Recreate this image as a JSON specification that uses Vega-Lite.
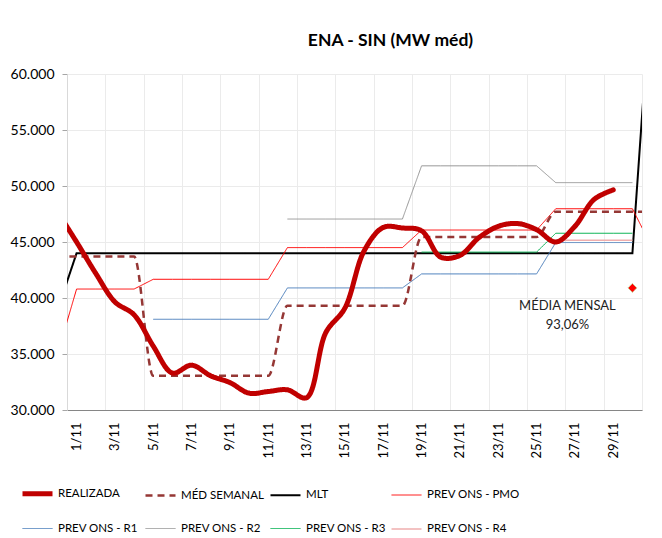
{
  "$schema": "https://vega.github.io/schema/vega-lite/v6.json",
  "width": 575,
  "height": 336,
  "autosize": {"type": "none"},
  "padding": {"left": 67, "top": 74, "right": 20, "bottom": 128},
  "background": "white",
  "title": {"text": "ENA - SIN (MW méd)", "font": "Lato", "fontSize": 17.5, "fontWeight": "bold", "color": "black", "anchor": "middle", "frame": "group", "dx": 36, "offset": 4, "baseline": "alphabetic"},
  "data": {"values": [
    {"day":0,"serie":"REALIZADA","v":47700},{"day":1,"serie":"REALIZADA","v":45000},{"day":2,"serie":"REALIZADA","v":42200},{"day":3,"serie":"REALIZADA","v":39650},{"day":4,"serie":"REALIZADA","v":38500},{"day":5,"serie":"REALIZADA","v":35700},{"day":6,"serie":"REALIZADA","v":33300},{"day":7,"serie":"REALIZADA","v":34000},{"day":8,"serie":"REALIZADA","v":33050},{"day":9,"serie":"REALIZADA","v":32450},{"day":10,"serie":"REALIZADA","v":31500},{"day":11,"serie":"REALIZADA","v":31650},{"day":12,"serie":"REALIZADA","v":31800},{"day":13,"serie":"REALIZADA","v":31100},{"day":14,"serie":"REALIZADA","v":36900},{"day":15,"serie":"REALIZADA","v":39100},{"day":16,"serie":"REALIZADA","v":44200},{"day":17,"serie":"REALIZADA","v":46300},{"day":18,"serie":"REALIZADA","v":46250},{"day":19,"serie":"REALIZADA","v":46000},{"day":20,"serie":"REALIZADA","v":43650},{"day":21,"serie":"REALIZADA","v":43800},{"day":22,"serie":"REALIZADA","v":45400},{"day":23,"serie":"REALIZADA","v":46400},{"day":24,"serie":"REALIZADA","v":46650},{"day":25,"serie":"REALIZADA","v":46100},{"day":26,"serie":"REALIZADA","v":45000},{"day":27,"serie":"REALIZADA","v":46400},{"day":28,"serie":"REALIZADA","v":48800},{"day":29,"serie":"REALIZADA","v":49650},
    {"day":0,"serie":"MÉD SEMANAL","v":43700},{"day":1,"serie":"MÉD SEMANAL","v":43700},{"day":2,"serie":"MÉD SEMANAL","v":43700},{"day":3,"serie":"MÉD SEMANAL","v":43700},{"day":4,"serie":"MÉD SEMANAL","v":43700},{"day":5,"serie":"MÉD SEMANAL","v":33050},{"day":6,"serie":"MÉD SEMANAL","v":33050},{"day":7,"serie":"MÉD SEMANAL","v":33050},{"day":8,"serie":"MÉD SEMANAL","v":33050},{"day":9,"serie":"MÉD SEMANAL","v":33050},{"day":10,"serie":"MÉD SEMANAL","v":33050},{"day":11,"serie":"MÉD SEMANAL","v":33050},{"day":12,"serie":"MÉD SEMANAL","v":39300},{"day":13,"serie":"MÉD SEMANAL","v":39300},{"day":14,"serie":"MÉD SEMANAL","v":39300},{"day":15,"serie":"MÉD SEMANAL","v":39300},{"day":16,"serie":"MÉD SEMANAL","v":39300},{"day":17,"serie":"MÉD SEMANAL","v":39300},{"day":18,"serie":"MÉD SEMANAL","v":39300},{"day":19,"serie":"MÉD SEMANAL","v":45450},{"day":20,"serie":"MÉD SEMANAL","v":45450},{"day":21,"serie":"MÉD SEMANAL","v":45450},{"day":22,"serie":"MÉD SEMANAL","v":45450},{"day":23,"serie":"MÉD SEMANAL","v":45450},{"day":24,"serie":"MÉD SEMANAL","v":45450},{"day":25,"serie":"MÉD SEMANAL","v":45450},{"day":26,"serie":"MÉD SEMANAL","v":47700},{"day":27,"serie":"MÉD SEMANAL","v":47700},{"day":28,"serie":"MÉD SEMANAL","v":47700},{"day":29,"serie":"MÉD SEMANAL","v":47700},{"day":30,"serie":"MÉD SEMANAL","v":47700},{"day":31,"serie":"MÉD SEMANAL","v":47700},
    {"day":0,"serie":"MLT","v":38900},{"day":1,"serie":"MLT","v":44000},{"day":2,"serie":"MLT","v":44000},{"day":3,"serie":"MLT","v":44000},{"day":4,"serie":"MLT","v":44000},{"day":5,"serie":"MLT","v":44000},{"day":6,"serie":"MLT","v":44000},{"day":7,"serie":"MLT","v":44000},{"day":8,"serie":"MLT","v":44000},{"day":9,"serie":"MLT","v":44000},{"day":10,"serie":"MLT","v":44000},{"day":11,"serie":"MLT","v":44000},{"day":12,"serie":"MLT","v":44000},{"day":13,"serie":"MLT","v":44000},{"day":14,"serie":"MLT","v":44000},{"day":15,"serie":"MLT","v":44000},{"day":16,"serie":"MLT","v":44000},{"day":17,"serie":"MLT","v":44000},{"day":18,"serie":"MLT","v":44000},{"day":19,"serie":"MLT","v":44000},{"day":20,"serie":"MLT","v":44000},{"day":21,"serie":"MLT","v":44000},{"day":22,"serie":"MLT","v":44000},{"day":23,"serie":"MLT","v":44000},{"day":24,"serie":"MLT","v":44000},{"day":25,"serie":"MLT","v":44000},{"day":26,"serie":"MLT","v":44000},{"day":27,"serie":"MLT","v":44000},{"day":28,"serie":"MLT","v":44000},{"day":29,"serie":"MLT","v":44000},{"day":30,"serie":"MLT","v":44000},{"day":31,"serie":"MLT","v":68400},
    {"day":0,"serie":"PREV ONS - PMO","v":34960},{"day":1,"serie":"PREV ONS - PMO","v":40800},{"day":2,"serie":"PREV ONS - PMO","v":40800},{"day":3,"serie":"PREV ONS - PMO","v":40800},{"day":4,"serie":"PREV ONS - PMO","v":40800},{"day":5,"serie":"PREV ONS - PMO","v":41670},{"day":6,"serie":"PREV ONS - PMO","v":41670},{"day":7,"serie":"PREV ONS - PMO","v":41670},{"day":8,"serie":"PREV ONS - PMO","v":41670},{"day":9,"serie":"PREV ONS - PMO","v":41670},{"day":10,"serie":"PREV ONS - PMO","v":41670},{"day":11,"serie":"PREV ONS - PMO","v":41670},{"day":12,"serie":"PREV ONS - PMO","v":44500},{"day":13,"serie":"PREV ONS - PMO","v":44500},{"day":14,"serie":"PREV ONS - PMO","v":44500},{"day":15,"serie":"PREV ONS - PMO","v":44500},{"day":16,"serie":"PREV ONS - PMO","v":44500},{"day":17,"serie":"PREV ONS - PMO","v":44500},{"day":18,"serie":"PREV ONS - PMO","v":44500},{"day":19,"serie":"PREV ONS - PMO","v":46070},{"day":20,"serie":"PREV ONS - PMO","v":46070},{"day":21,"serie":"PREV ONS - PMO","v":46070},{"day":22,"serie":"PREV ONS - PMO","v":46070},{"day":23,"serie":"PREV ONS - PMO","v":46070},{"day":24,"serie":"PREV ONS - PMO","v":46070},{"day":25,"serie":"PREV ONS - PMO","v":46070},{"day":26,"serie":"PREV ONS - PMO","v":47970},{"day":27,"serie":"PREV ONS - PMO","v":47970},{"day":28,"serie":"PREV ONS - PMO","v":47970},{"day":29,"serie":"PREV ONS - PMO","v":47970},{"day":30,"serie":"PREV ONS - PMO","v":47970},{"day":31,"serie":"PREV ONS - PMO","v":44600},
    {"day":5,"serie":"PREV ONS - R1","v":38100},{"day":6,"serie":"PREV ONS - R1","v":38100},{"day":7,"serie":"PREV ONS - R1","v":38100},{"day":8,"serie":"PREV ONS - R1","v":38100},{"day":9,"serie":"PREV ONS - R1","v":38100},{"day":10,"serie":"PREV ONS - R1","v":38100},{"day":11,"serie":"PREV ONS - R1","v":38100},{"day":12,"serie":"PREV ONS - R1","v":40900},{"day":13,"serie":"PREV ONS - R1","v":40900},{"day":14,"serie":"PREV ONS - R1","v":40900},{"day":15,"serie":"PREV ONS - R1","v":40900},{"day":16,"serie":"PREV ONS - R1","v":40900},{"day":17,"serie":"PREV ONS - R1","v":40900},{"day":18,"serie":"PREV ONS - R1","v":40900},{"day":19,"serie":"PREV ONS - R1","v":42150},{"day":20,"serie":"PREV ONS - R1","v":42150},{"day":21,"serie":"PREV ONS - R1","v":42150},{"day":22,"serie":"PREV ONS - R1","v":42150},{"day":23,"serie":"PREV ONS - R1","v":42150},{"day":24,"serie":"PREV ONS - R1","v":42150},{"day":25,"serie":"PREV ONS - R1","v":42150},{"day":26,"serie":"PREV ONS - R1","v":44950},{"day":27,"serie":"PREV ONS - R1","v":44950},{"day":28,"serie":"PREV ONS - R1","v":44950},{"day":29,"serie":"PREV ONS - R1","v":44950},{"day":30,"serie":"PREV ONS - R1","v":44950},
    {"day":12,"serie":"PREV ONS - R2","v":47050},{"day":13,"serie":"PREV ONS - R2","v":47050},{"day":14,"serie":"PREV ONS - R2","v":47050},{"day":15,"serie":"PREV ONS - R2","v":47050},{"day":16,"serie":"PREV ONS - R2","v":47050},{"day":17,"serie":"PREV ONS - R2","v":47050},{"day":18,"serie":"PREV ONS - R2","v":47050},{"day":19,"serie":"PREV ONS - R2","v":51800},{"day":20,"serie":"PREV ONS - R2","v":51800},{"day":21,"serie":"PREV ONS - R2","v":51800},{"day":22,"serie":"PREV ONS - R2","v":51800},{"day":23,"serie":"PREV ONS - R2","v":51800},{"day":24,"serie":"PREV ONS - R2","v":51800},{"day":25,"serie":"PREV ONS - R2","v":51800},{"day":26,"serie":"PREV ONS - R2","v":50300},{"day":27,"serie":"PREV ONS - R2","v":50300},{"day":28,"serie":"PREV ONS - R2","v":50300},{"day":29,"serie":"PREV ONS - R2","v":50300},{"day":30,"serie":"PREV ONS - R2","v":50300},
    {"day":19,"serie":"PREV ONS - R3","v":44100},{"day":20,"serie":"PREV ONS - R3","v":44100},{"day":21,"serie":"PREV ONS - R3","v":44100},{"day":22,"serie":"PREV ONS - R3","v":44100},{"day":23,"serie":"PREV ONS - R3","v":44100},{"day":24,"serie":"PREV ONS - R3","v":44100},{"day":25,"serie":"PREV ONS - R3","v":44100},{"day":26,"serie":"PREV ONS - R3","v":45780},{"day":27,"serie":"PREV ONS - R3","v":45780},{"day":28,"serie":"PREV ONS - R3","v":45780},{"day":29,"serie":"PREV ONS - R3","v":45780},{"day":30,"serie":"PREV ONS - R3","v":45780},
    {"day":26,"serie":"PREV ONS - R4","v":45150},{"day":27,"serie":"PREV ONS - R4","v":45150},{"day":28,"serie":"PREV ONS - R4","v":45150},{"day":29,"serie":"PREV ONS - R4","v":45150},{"day":30,"serie":"PREV ONS - R4","v":45150},
    {"day":30,"serie":"MÉDIA MENSAL","v":40900,"label":"MÉDIA MENSAL\n93,06%"}
  ]},
  "resolve": {"axis": {"x": "independent"}},
  "encoding": {
    "x": {"field": "day", "type": "quantitative", "scale": {"domain": [0.5, 30.5], "nice": false, "zero": false}},
    "y": {"field": "v", "type": "quantitative", "scale": {"domain": [30000, 60000], "nice": false, "zero": false},
      "axis": {"title": null, "values": [30000, 35000, 40000, 45000, 50000, 55000, 60000], "labelExpr": "replace(format(datum.value, ',.0f'), ',', '.')", "labelFont": "Lato", "labelFontSize": 14, "labelColor": "black", "labelPadding": 8, "tickSize": 5, "tickColor": "#A6A6A6", "domainColor": "#D9D9D9", "gridColor": "#EBEBEB", "grid": true}},
    "color": {"field": "serie", "type": "nominal", "scale": {"domain": ["REALIZADA", "MÉD SEMANAL", "MLT", "PREV ONS - PMO", "PREV ONS - R1", "PREV ONS - R2", "PREV ONS - R3", "PREV ONS - R4"], "range": ["#C00000", "#953735", "#000000", "#FF0000", "#4A7EBB", "#969696", "#00B050", "#F0AFAF"]}, "legend": {"title": null}},
    "strokeDash": {"field": "serie", "type": "nominal", "scale": {"type": "ordinal", "domain": ["REALIZADA", "MÉD SEMANAL", "MLT", "PREV ONS - PMO", "PREV ONS - R1", "PREV ONS - R2", "PREV ONS - R3", "PREV ONS - R4"], "range": [[1, 0], [7, 5], [1, 0], [1, 0], [1, 0], [1, 0], [1, 0], [1, 0]]}, "legend": {"title": null}},
    "strokeWidth": {"field": "serie", "type": "nominal", "scale": {"type": "ordinal", "domain": ["REALIZADA", "MÉD SEMANAL", "MLT", "PREV ONS - PMO", "PREV ONS - R1", "PREV ONS - R2", "PREV ONS - R3", "PREV ONS - R4"], "range": [5, 2.5, 2, 1, 1, 1, 1, 1.5]}, "legend": {"title": null}},
    "order": {"field": "day", "type": "quantitative"}
  },
  "layer": [
    {
      "transform": [{"filter": "indexof(['MLT','PREV ONS - PMO','PREV ONS - R1','PREV ONS - R2','PREV ONS - R3','PREV ONS - R4'], datum.serie) >= 0"}],
      "mark": {"type": "line", "clip": true},
      "encoding": {
        "x": {"field": "day", "type": "quantitative", "axis": {"orient": "top", "title": null, "values": [0.5, 2.5, 4.5, 6.5, 8.5, 10.5, 12.5, 14.5, 16.5, 18.5, 20.5, 22.5, 24.5, 26.5, 28.5, 30.5], "labels": false, "ticks": false, "domain": false, "grid": true, "gridColor": "#EBEBEB"}}
      }
    },
    {
      "transform": [{"filter": "datum.serie === 'MÉD SEMANAL'"}],
      "mark": {"type": "line", "clip": true, "interpolate": "monotone"},
      "encoding": {
        "x": {"field": "day", "type": "quantitative", "axis": {"orient": "bottom", "title": null, "values": [1, 3, 5, 7, 9, 11, 13, 15, 17, 19, 21, 23, 25, 27, 29], "labelExpr": "datum.value + '/11'", "labelAngle": 270, "labelAlign": "right", "labelBaseline": "middle", "labelFont": "Lato", "labelFontSize": 13, "labelColor": "black", "labelPadding": 12, "ticks": false, "grid": false, "domainColor": "#868686"}}
      }
    },
    {
      "transform": [{"filter": "datum.serie === 'REALIZADA'"}],
      "mark": {"type": "line", "clip": true, "interpolate": "catmull-rom", "strokeCap": "round"},
      "encoding": {
        "x": {"field": "day", "type": "quantitative", "axis": null}
      }
    },
    {
      "transform": [{"filter": "datum.serie === 'MÉDIA MENSAL'"}],
      "mark": {"type": "point", "shape": "diamond", "filled": true, "stroke": "#C4D79B", "size": 80, "opacity": 1},
      "encoding": {"x": {"field": "day", "type": "quantitative", "axis": null}, "color": {"value": "#FF0000"}, "strokeDash": {"value": [1, 0]}, "strokeWidth": {"value": 1}}
    },
    {
      "transform": [{"filter": "datum.serie === 'MÉDIA MENSAL'"}],
      "mark": {"type": "text", "font": "Lato", "fontSize": 13, "align": "center", "baseline": "top", "lineBreak": "\n", "lineHeight": 19, "dx": -65, "dy": 12},
      "encoding": {"x": {"field": "day", "type": "quantitative", "axis": null}, "text": {"field": "label"}, "color": {"value": "#222222"}, "strokeDash": {"value": [1, 0]}, "strokeWidth": {"value": 0}}
    }
  ],
  "config": {
    "font": "Lato",
    "view": {"stroke": null},
    "legend": {"orient": "none", "legendX": -47, "legendY": 402, "columns": 4, "gridAlign": "each", "direction": "horizontal", "symbolType": "stroke", "symbolSize": 900, "labelFont": "Lato", "labelFontSize": 11.5, "labelColor": "black", "labelOffset": 3, "columnPadding": 2, "rowPadding": 9, "padding": 0, "labelLimit": 200}
  }
}
